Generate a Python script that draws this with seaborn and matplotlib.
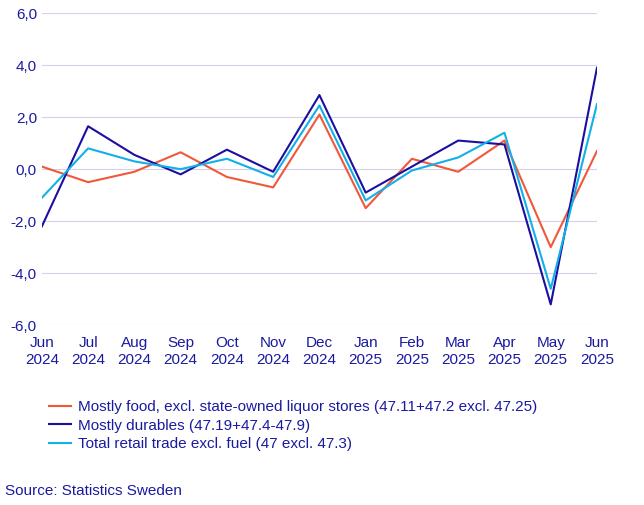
import matplotlib
matplotlib.use("Agg")
import matplotlib.pyplot as plt
import seaborn as sns
import pandas as pd

plt.rcParams["font.family"] = "Liberation Sans"

months = ["Jun\n2024","Jul\n2024","Aug\n2024","Sep\n2024","Oct\n2024","Nov\n2024","Dec\n2024",
          "Jan\n2025","Feb\n2025","Mar\n2025","Apr\n2025","May\n2025","Jun\n2025"]
food = [0.1,-0.5,-0.1,0.65,-0.3,-0.7,2.1,-1.5,0.4,-0.1,1.1,-3.0,0.7]
durables = [-2.2,1.65,0.55,-0.2,0.75,-0.1,2.85,-0.9,0.1,1.1,0.95,-5.2,3.9]
total = [-1.1,0.8,0.3,0.0,0.4,-0.3,2.45,-1.2,-0.05,0.45,1.4,-4.6,2.5]
names = ["Mostly food, excl. state-owned liquor stores (47.11+47.2 excl. 47.25)",
         "Mostly durables (47.19+47.4-47.9)",
         "Total retail trade excl. fuel (47 excl. 47.3)"]
colors = ["#f0583a", "#1a0fa0", "#12b0e8"]

rows = []
for n, vals in zip(names, [food, durables, total]):
    for i, v in enumerate(vals):
        rows.append({"x": i, "v": v, "s": n})
df = pd.DataFrame(rows)

txt = "#1a1aa0"
fig = plt.figure(figsize=(6.44, 5.05), dpi=100)
ax = fig.add_axes([0.065, 0.356, 0.862, 0.618])
sns.lineplot(data=df, x="x", y="v", hue="s", palette=colors, ax=ax, linewidth=1.5, legend=False)
ax.set_xlim(0, 12)
ax.set_ylim(-6, 6)
ax.set_yticks(range(-6, 7, 2))
ax.set_yticklabels([f"{t:.1f}".replace(".", ",") for t in range(-6, 7, 2)])
ax.set_xticks(range(13))
ax.set_xticklabels(months)
ax.tick_params(colors=txt, labelsize=11, length=0)
ax.tick_params(axis="x", pad=8)
for t in ax.get_xticklabels()+ax.get_yticklabels():
    t.set_color(txt)
ax.grid(axis="y", color="#d6d0ec", linewidth=0.8)
for s in ax.spines.values():
    s.set_visible(False)
ax.set_xlabel(""); ax.set_ylabel("")
from matplotlib.lines import Line2D
handles = [Line2D([0],[0],color=c,lw=1.5) for c in colors]
fig.legend(handles, names, loc="upper left", bbox_to_anchor=(0.055, 0.235), frameon=False,
           fontsize=11, labelcolor=txt, handlelength=1.4, handletextpad=0.5, labelspacing=0.3)
fig.text(0.008, 0.02, "Source: Statistics Sweden", color=txt, fontsize=11)
fig.savefig("out.png", dpi=100)
